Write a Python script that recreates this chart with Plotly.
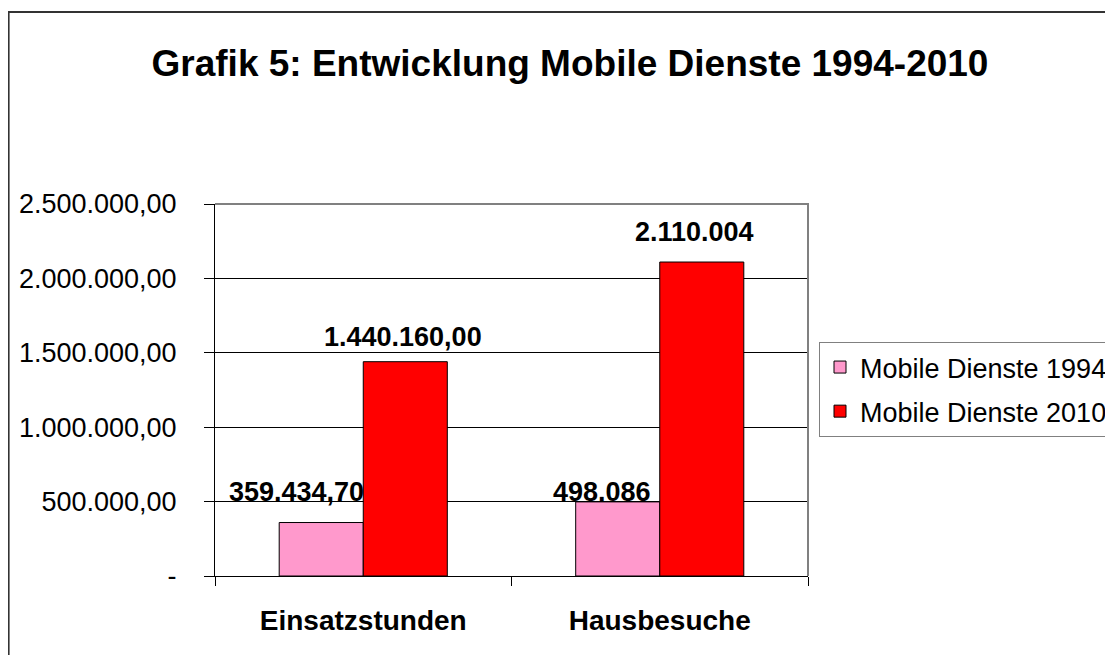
import plotly.graph_objects as go

categories = ["Einsatzstunden", "Hausbesuche"]
series_names = ["Mobile Dienste 1994", "Mobile Dienste 2010"]
values_1994 = [359434.70, 498086]
values_2010 = [1440160.00, 2110004]
labels_1994 = ["359.434,70", "498.086"]
labels_2010 = ["1.440.160,00", "2.110.004"]
ytick_vals = [0, 500000, 1000000, 1500000, 2000000, 2500000]
ytick_text = ["-", "500.000,00", "1.000.000,00", "1.500.000,00", "2.000.000,00", "2.500.000,00"]

# the page body adds an 8px offset, so the figure is drawn 8px smaller
OFF = 8
W, H = 1113 - OFF, 655 - OFF
L, R, T, B = 215 - OFF, 808 - OFF, 204 - OFF, 576 - OFF
FONT = "Liberation Sans, Arial, sans-serif"

fig = go.Figure()
fig.add_trace(go.Bar(x=categories, y=values_1994, name=series_names[0], legendgroup="a",
                     marker=dict(color="#FF99CC", line=dict(color="black", width=1))))
fig.add_trace(go.Bar(x=categories, y=values_2010, name=series_names[1], legendgroup="b",
                     marker=dict(color="#FF0000", line=dict(color="black", width=1))))

# data labels (manual Excel-like placement offsets)
xsh_1994 = [-67, -58]
xsh_2010 = [40, 35]
ysh_1994 = [31, 10]
ysh_2010 = [25, 30]
for i, c in enumerate(categories):
    fig.add_annotation(x=c, y=values_1994[i], xref="x", yref="y", text=labels_1994[i],
                       showarrow=False, xshift=xsh_1994[i], yshift=ysh_1994[i], yanchor="middle",
                       font=dict(family=FONT, size=27, color="black", weight="bold"))
    fig.add_annotation(x=c, y=values_2010[i], xref="x", yref="y", text=labels_2010[i],
                       showarrow=False, xshift=xsh_2010[i], yshift=ysh_2010[i], yanchor="middle",
                       font=dict(family=FONT, size=27, color="black", weight="bold"))

def px2x(px):
    return (px - OFF - L) / (R - L)

def py2y(py):
    return (B - (py - OFF)) / (B - T)

# plot area border (gray top/right)
fig.add_shape(type="path", xref="paper", yref="paper",
              path="M 0 1 L 1 1 L 1 0",
              line=dict(color="#808080", width=2), layer="above")
# outer chart border (left/top)
fig.add_shape(type="path", xref="paper", yref="paper",
              path=f"M {px2x(8.6)} {py2y(700)} L {px2x(8.6)} {py2y(12)} L {px2x(1200)} {py2y(12)}",
              line=dict(color="#333333", width=2), layer="above")

fig.update_layout(
    width=W, height=H,
    margin=dict(l=L, r=W - R, t=T, b=H - B, autoexpand=False),
    paper_bgcolor="white", plot_bgcolor="white",
    barmode="group", bargap=0.433, bargroupgap=0,
    font=dict(family=FONT, color="black"),
    title=dict(text="<b>Grafik 5: Entwicklung Mobile Dienste 1994-2010</b>",
               x=(570 - OFF) / W, xanchor="center", y=1 - (63 - OFF) / H, yanchor="middle",
               font=dict(family=FONT, size=37, color="black")),
    legend=dict(x=px2x(819), y=py2y(342), xanchor="left", yanchor="top",
                bordercolor="#808080", borderwidth=1, bgcolor="white",
                font=dict(family=FONT, size=27, color="black"),
                tracegroupgap=6),
    showlegend=True,
)
fig.update_yaxes(range=[0, 2500000], tickvals=ytick_vals, ticktext=ytick_text,
                 showgrid=True, gridcolor="black", gridwidth=1,
                 showline=True, linecolor="black", linewidth=1,
                 ticks="outside", ticklen=10, tickcolor="black",
                 ticklabelstandoff=22, zeroline=False,
                 tickfont=dict(family=FONT, size=27, color="black"))
fig.update_xaxes(showline=True, linecolor="black", linewidth=1,
                 ticks="outside", ticklen=9, tickcolor="black", tickson="boundaries",
                 ticklabelstandoff=19, showgrid=False,
                 tickfont=dict(family=FONT, size=28, color="black", weight="bold"))

fig.write_html("out.html")
